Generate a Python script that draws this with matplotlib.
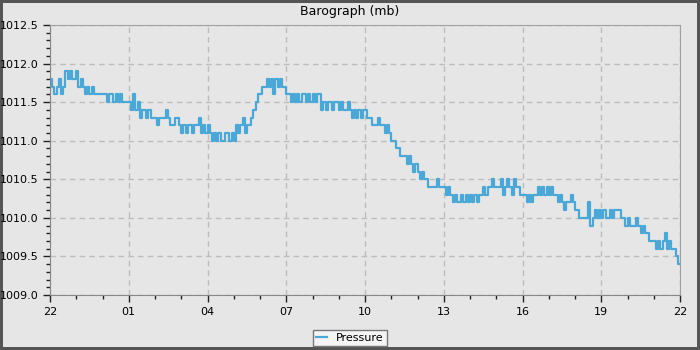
import numpy as np
import matplotlib
matplotlib.use("Agg")
import matplotlib.pyplot as plt
from matplotlib.ticker import MultipleLocator

# Pressure readings every 5 minutes, 22:00 -> 22:00 (one row per hour)
pressure = [
    1011.8, 1011.7, 1011.6, 1011.7, 1011.8, 1011.6, 1011.7, 1011.9, 1011.8, 1011.9, 1011.8, 1011.8,  # 22
    1011.9, 1011.7, 1011.8, 1011.7, 1011.6, 1011.7, 1011.6, 1011.7, 1011.6, 1011.6, 1011.6, 1011.6,  # 23
    1011.6, 1011.6, 1011.5, 1011.6, 1011.6, 1011.5, 1011.6, 1011.5, 1011.6, 1011.5, 1011.5, 1011.5,  # 00
    1011.5, 1011.4, 1011.6, 1011.4, 1011.5, 1011.3, 1011.4, 1011.4, 1011.3, 1011.4, 1011.3, 1011.3,  # 01
    1011.3, 1011.2, 1011.3, 1011.3, 1011.3, 1011.4, 1011.3, 1011.2, 1011.2, 1011.3, 1011.3, 1011.2,  # 02
    1011.1, 1011.2, 1011.1, 1011.2, 1011.2, 1011.1, 1011.2, 1011.2, 1011.3, 1011.1, 1011.2, 1011.1,  # 03
    1011.2, 1011.1, 1011.0, 1011.1, 1011.0, 1011.1, 1011.0, 1011.0, 1011.1, 1011.1, 1011.0, 1011.1,  # 04
    1011.0, 1011.2, 1011.1, 1011.2, 1011.3, 1011.1, 1011.2, 1011.2, 1011.3, 1011.4, 1011.5, 1011.6,  # 05
    1011.6, 1011.7, 1011.7, 1011.8, 1011.7, 1011.8, 1011.6, 1011.8, 1011.7, 1011.8, 1011.7, 1011.7,  # 06
    1011.6, 1011.6, 1011.5, 1011.6, 1011.5, 1011.6, 1011.5, 1011.6, 1011.6, 1011.5, 1011.6, 1011.5,  # 07
    1011.6, 1011.5, 1011.6, 1011.6, 1011.4, 1011.5, 1011.4, 1011.5, 1011.5, 1011.4, 1011.5, 1011.5,  # 08
    1011.4, 1011.5, 1011.4, 1011.4, 1011.5, 1011.4, 1011.3, 1011.4, 1011.3, 1011.4, 1011.3, 1011.4,  # 09
    1011.4, 1011.3, 1011.3, 1011.2, 1011.2, 1011.2, 1011.3, 1011.2, 1011.2, 1011.1, 1011.2, 1011.1,  # 10
    1011.0, 1011.0, 1010.9, 1010.9, 1010.8, 1010.8, 1010.8, 1010.7, 1010.8, 1010.7, 1010.6, 1010.7,  # 11
    1010.6, 1010.5, 1010.6, 1010.5, 1010.5, 1010.4, 1010.4, 1010.4, 1010.4, 1010.5, 1010.4, 1010.4,  # 12
    1010.4, 1010.3, 1010.4, 1010.3, 1010.2, 1010.3, 1010.2, 1010.2, 1010.3, 1010.2, 1010.3, 1010.2,  # 13
    1010.3, 1010.2, 1010.3, 1010.2, 1010.3, 1010.3, 1010.4, 1010.3, 1010.4, 1010.4, 1010.5, 1010.4,  # 14
    1010.4, 1010.4, 1010.5, 1010.3, 1010.4, 1010.5, 1010.4, 1010.3, 1010.5, 1010.4, 1010.4, 1010.3,  # 15
    1010.3, 1010.3, 1010.2, 1010.3, 1010.2, 1010.3, 1010.3, 1010.4, 1010.3, 1010.4, 1010.3, 1010.4,  # 16
    1010.3, 1010.4, 1010.3, 1010.3, 1010.2, 1010.3, 1010.2, 1010.1, 1010.2, 1010.2, 1010.3, 1010.2,  # 17
    1010.1, 1010.1, 1010.0, 1010.0, 1010.0, 1010.0, 1010.2, 1009.9, 1010.0, 1010.1, 1010.0, 1010.1,  # 18
    1010.0, 1010.1, 1010.0, 1010.0, 1010.1, 1010.0, 1010.1, 1010.1, 1010.1, 1010.0, 1010.0, 1009.9,  # 19
    1010.0, 1009.9, 1009.9, 1009.9, 1010.0, 1009.9, 1009.8, 1009.9, 1009.8, 1009.8, 1009.7, 1009.7,  # 20
    1009.7, 1009.6, 1009.7, 1009.6, 1009.7, 1009.8, 1009.6, 1009.7, 1009.6, 1009.6, 1009.5, 1009.4,  # 21
    1009.4,
]
hours = np.arange(len(pressure)) * 5 / 60.0  # hours since 22:00

tick_pos = [0, 3, 6, 9, 12, 15, 18, 21, 24]
tick_labels = ["22", "01", "04", "07", "10", "13", "16", "19", "22"]

bg = "#e6e6e6"
fig = plt.figure(figsize=(7, 3.5), dpi=100, facecolor=bg)
fig.patch.set_edgecolor("#555555")
fig.patch.set_linewidth(3)
ax = fig.add_axes([50 / 700, 1 - 295 / 350, 630 / 700, 270 / 350], facecolor=bg)

ax.plot(hours, pressure, drawstyle="steps-post", color="#4aa8d8", linewidth=1.6,
        label="Pressure")

ax.set_xlim(0, 24)
ax.set_ylim(1009.0, 1012.5)
ax.set_xticks(tick_pos)
ax.set_xticklabels(tick_labels)
ax.xaxis.set_minor_locator(MultipleLocator(1))
ax.yaxis.set_major_locator(MultipleLocator(0.5))
ax.yaxis.set_minor_locator(MultipleLocator(0.1))
ax.yaxis.set_major_formatter(plt.FuncFormatter(lambda v, p: f"{v:.1f}"))

ax.tick_params(axis="both", which="major", length=5, width=1, labelsize=8, color="#222222")
ax.tick_params(axis="both", which="minor", length=3, width=1, color="#222222")
ax.grid(True, which="major", linestyle=(0, (4, 3)), color="#bdbdbd", linewidth=1)

for side in ["top", "right"]:
    ax.spines[side].set_color("#a0a0a0")
for side in ["left", "bottom"]:
    ax.spines[side].set_color("#888888")

fig.text(0.5, 1 - 12 / 350, "Barograph (mb)", ha="center", va="center", fontsize=9)

leg = fig.legend(loc="center", bbox_to_anchor=(350 / 700, 1 - 338 / 350), fontsize=8,
                 frameon=True, fancybox=False, handlelength=1.0, borderpad=0.3)
leg.get_frame().set_facecolor("#f4f4f4")
leg.get_frame().set_edgecolor("#777777")
leg.get_frame().set_alpha(1)

fig.savefig("out.png", dpi=100, facecolor=bg, edgecolor="#555555")
